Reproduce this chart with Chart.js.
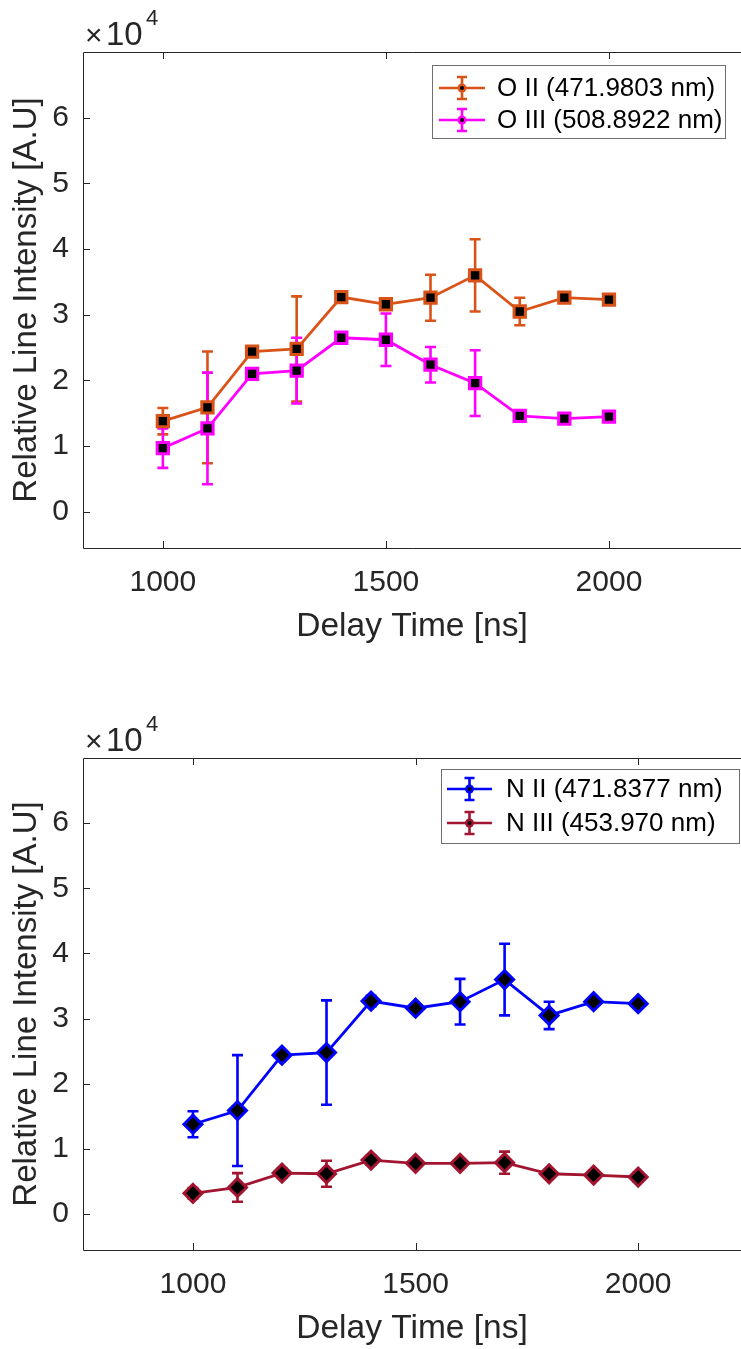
<!DOCTYPE html>
<html>
<head>
<meta charset="utf-8">
<script src="https://cdn.jsdelivr.net/npm/chart.js@4.4.1/dist/chart.umd.min.js"></script>
<style>
    html, body { margin: 0; padding: 0; background: #fff; }
    canvas { display: block; }
</style>
</head>
<body>
<canvas id="chart-oxygen" width="741" height="675"></canvas>
<canvas id="chart-nitrogen" width="741" height="674"></canvas>
<script>
// delay times [ns]
var delayTimes = [1000, 1100, 1200, 1300, 1400, 1500, 1600, 1700, 1800, 1900, 2000];
var xTickValues = [1000, 1500, 2000];
var yTickValues = [0, 10000, 20000, 30000, 40000, 50000, 60000];

// relative line intensities [A.U] and their error bars
var oII = [13800, 15900, 24400, 24800, 32700, 31600, 32600, 36000, 30500, 32600, 32300];
var oIIErr = [2000, 8500, 500, 8000, 800, 500, 3500, 5500, 2100, 500, 500];
var oIII = [9700, 12700, 21000, 21500, 26500, 26200, 22400, 19600, 14600, 14200, 14500];
var oIIIErr = [3000, 8500, 700, 5000, 600, 4000, 2700, 5000, 500, 700, 600];
var nII = [13800, 15900, 24400, 24800, 32700, 31600, 32600, 36000, 30500, 32600, 32300];
var nIIErr = [2000, 8500, 500, 8000, 800, 500, 3500, 5500, 2100, 500, 500];
var nIII = [3200, 4100, 6300, 6200, 8300, 7800, 7800, 7900, 6200, 6000, 5700];
var nIIIErr = [800, 2200, 700, 2000, 700, 500, 600, 1700, 600, 700, 700];

var FONT = '"Liberation Sans", Arial, Helvetica, sans-serif';
var AXIS_COLOR = '#262626';

function points(values) {
    return values.map(function (v, i) { return { x: delayTimes[i], y: v }; });
}

function series(label, values, errors, color, style, radius) {
    return {
        label: label,
        data: points(values),
        errors: errors,
        borderColor: color,
        borderWidth: 2.8,
        pointStyle: style,
        pointRadius: radius,
        pointHoverRadius: radius,
        pointBorderWidth: 3,
        pointBorderColor: color,
        pointBackgroundColor: '#000',
        fill: false,
        tension: 0
    };
}

// vertical error bars with caps, read from each dataset's errors array
var errorBarPlugin = {
    id: 'errorBars',
    beforeDatasetsDraw: function (chart) {
        var ctx = chart.ctx, xs = chart.scales.x, ys = chart.scales.y;
        ctx.save();
        chart.data.datasets.forEach(function (ds) {
            ctx.strokeStyle = ds.borderColor;
            ctx.lineWidth = 2.6;
            ds.data.forEach(function (pt, i) {
                var e = ds.errors[i];
                var px = xs.getPixelForValue(pt.x);
                var top = ys.getPixelForValue(pt.y + e);
                var bot = ys.getPixelForValue(pt.y - e);
                ctx.beginPath();
                ctx.moveTo(px, top); ctx.lineTo(px, bot);
                ctx.moveTo(px - 5.5, top); ctx.lineTo(px + 5.5, top);
                ctx.moveTo(px - 5.5, bot); ctx.lineTo(px + 5.5, bot);
                ctx.stroke();
            });
        });
        ctx.restore();
    }
};

// matlab style box with inward ticks, the x10^4 multiplier and the legend
var framePlugin = {
    id: 'frame',
    afterDraw: function (chart, args, opts) {
        var ctx = chart.ctx, a = chart.chartArea;
        var xs = chart.scales.x, ys = chart.scales.y;
        var l = a.left + 0.5, t = a.top + 0.5, b = a.bottom + 0.5;
        ctx.save();
        ctx.strokeStyle = AXIS_COLOR;
        ctx.lineWidth = 1;
        ctx.beginPath();
        ctx.moveTo(a.right, t); ctx.lineTo(l, t); ctx.lineTo(l, b); ctx.lineTo(a.right, b);
        xs.ticks.forEach(function (tk) {
            var px = Math.round(xs.getPixelForValue(tk.value)) + 0.5;
            ctx.moveTo(px, a.bottom); ctx.lineTo(px, a.bottom - 7);
            ctx.moveTo(px, a.top); ctx.lineTo(px, a.top + 7);
        });
        ys.ticks.forEach(function (tk) {
            var py = Math.round(ys.getPixelForValue(tk.value)) + 0.5;
            ctx.moveTo(a.left, py); ctx.lineTo(a.left + 7, py);
        });
        ctx.stroke();

        ctx.fillStyle = AXIS_COLOR;
        ctx.textAlign = 'left';
        ctx.textBaseline = 'alphabetic';
        ctx.font = '30px ' + FONT;
        ctx.fillText('\u00d7', a.left + 2, a.top - 7);
        ctx.font = '33px ' + FONT;
        ctx.fillText('10', a.left + 23, a.top - 7);
        ctx.font = '22px ' + FONT;
        ctx.fillText('4', a.left + 63, a.top - 27);

        // legend
        var lg = opts;
        ctx.fillStyle = '#fff';
        ctx.fillRect(lg.x, lg.y, lg.w, lg.h);
        ctx.strokeStyle = '#6f6f6f';
        ctx.strokeRect(lg.x + 0.5, lg.y + 0.5, lg.w, lg.h);
        chart.data.datasets.forEach(function (ds, i) {
            var cy = lg.y + lg.rows[i];
            var cx = (lg.lineFrom + lg.lineTo) / 2;
            ctx.strokeStyle = ds.borderColor;
            ctx.lineWidth = 2.6;
            ctx.beginPath();
            ctx.moveTo(lg.lineFrom, cy); ctx.lineTo(lg.lineTo, cy);
            ctx.moveTo(cx, cy - 11); ctx.lineTo(cx, cy + 11);
            ctx.moveTo(cx - 5, cy - 11); ctx.lineTo(cx + 5, cy - 11);
            ctx.moveTo(cx - 5, cy + 11); ctx.lineTo(cx + 5, cy + 11);
            ctx.stroke();
            ctx.fillStyle = ds.borderColor;
            ctx.beginPath(); ctx.arc(cx, cy, 4.5, 0, Math.PI * 2); ctx.fill();
            ctx.fillStyle = '#000';
            ctx.beginPath(); ctx.arc(cx, cy, 2, 0, Math.PI * 2); ctx.fill();
            ctx.fillStyle = '#000';
            ctx.font = lg.fontSize + 'px ' + FONT;
            ctx.textBaseline = 'middle';
            ctx.fillText(ds.label, lg.textX, cy + 1);
        });
        ctx.restore();
    }
};

function noPadding(s) {
    s.paddingLeft = 0;
    s.paddingRight = 0;
    s.paddingTop = 0;
    s.paddingBottom = 0;
}

function createOptions(xMin, xMax, padTop, padBottom, legendBox) {
    return {
        responsive: false,
        animation: false,
        devicePixelRatio: 1,
        // the figure is cropped at the right, so the plot box runs to the canvas edge
        layout: { autoPadding: false, padding: { top: padTop, bottom: padBottom, left: 0, right: 0 } },
        plugins: {
            legend: { display: false },
            tooltip: { enabled: false },
            frame: legendBox
        },
        scales: {
            x: {
                type: 'linear',
                min: xMin,
                max: xMax,
                afterBuildTicks: function (s) { s.ticks = xTickValues.map(function (v) { return { value: v }; }); },
                afterFit: function (s) { s.height = 96; noPadding(s); },
                grid: { display: false, drawTicks: false },
                border: { display: false },
                ticks: {
                    font: { family: FONT, size: 30 },
                    color: AXIS_COLOR,
                    padding: 17,
                    maxRotation: 0,
                    autoSkip: false,
                    callback: function (v) { return String(v); }
                },
                title: {
                    display: true,
                    text: 'Delay Time [ns]',
                    color: AXIS_COLOR,
                    font: { family: FONT, size: 33.5, lineHeight: 1 },
                    padding: { top: 0, bottom: 0 }
                }
            },
            y: {
                type: 'linear',
                min: -5500,
                max: 70000,
                afterBuildTicks: function (s) { s.ticks = yTickValues.map(function (v) { return { value: v }; }); },
                afterFit: function (s) { s.width = 83; noPadding(s); },
                grid: { display: false, drawTicks: false },
                border: { display: false },
                ticks: {
                    font: { family: FONT, size: 30 },
                    color: AXIS_COLOR,
                    padding: 14,
                    autoSkip: false,
                    callback: function (v) { return String(v / 10000); }
                },
                title: {
                    display: true,
                    text: 'Relative Line Intensity [A.U]',
                    color: AXIS_COLOR,
                    font: { family: FONT, size: 33, lineHeight: 1 },
                    padding: { top: 10, bottom: 0 }
                }
            }
        }
    };
}

var ctx = document.getElementById('chart-oxygen');
new Chart(ctx, {
    type: 'line',
    data: {
        datasets: [
            series('O II (471.9803 nm)', oII, oIIErr, '#D95319', 'rect', 8),
            series('O III (508.8922 nm)', oIII, oIIIErr, '#FF00FF', 'rect', 8)
        ]
    },
    options: createOptions(821, 2296, 52, 31, {
        x: 432, y: 65, w: 293, h: 73, rows: [23, 55],
        lineFrom: 439, lineTo: 485, textX: 497, fontSize: 26
    }),
    plugins: [errorBarPlugin, framePlugin]
});

ctx = document.getElementById('chart-nitrogen');
new Chart(ctx, {
    type: 'line',
    data: {
        datasets: [
            series('N II (471.8377 nm)', nII, nIIErr, '#0000FF', 'rectRot', 9),
            series('N III (453.970 nm)', nIII, nIIIErr, '#A2142F', 'rectRot', 9)
        ]
    },
    options: createOptions(753, 2231, 83, 3, {
        x: 441, y: 94, w: 298, h: 74, rows: [20, 54],
        lineFrom: 447, lineTo: 492, textX: 506, fontSize: 26
    }),
    plugins: [errorBarPlugin, framePlugin]
});
</script>
</body>
</html>
